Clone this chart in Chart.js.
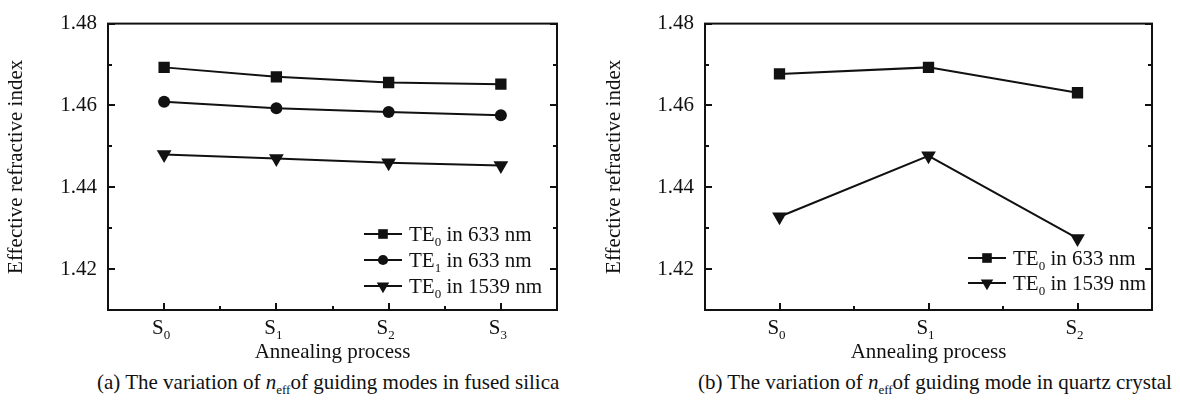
<!DOCTYPE html>
<html>
<head>
<meta charset="utf-8">
<title>Effective refractive index vs annealing process</title>
<script src="https://cdn.jsdelivr.net/npm/chart.js@4.4.1/dist/chart.umd.min.js"></script>
<style>
  html, body { margin: 0; padding: 0; background: #fff; }
  body {
    width: 1180px; height: 404px; position: relative; overflow: hidden;
    font-family: "Liberation Serif", "Times New Roman", serif; color: #111;
  }
  .panel { position: absolute; top: 0; width: 590px; height: 368px; }
  .caption { position: absolute; top: 369px; font-size: 21px; line-height: 27px; white-space: nowrap; }
  .caption sub { font-size: 13px; vertical-align: -5px; line-height: 0; }
</style>
</head>
<body>
<div class="panel" style="left:0"><canvas id="chartA" width="590" height="368"></canvas></div>
<div class="panel" style="left:590px"><canvas id="chartB" width="590" height="368"></canvas></div>
<div class="caption" style="left:97px">(a) The variation of <i>n</i><sub>eff</sub>of guiding modes in fused silica</div>
<div class="caption" style="left:698px">(b) The variation of <i>n</i><sub>eff</sub>of guiding mode in quartz crystal</div>
<script>
// categories
const STAGES_A = ["S₀", "S₁", "S₂", "S₃"];
const STAGES_B = ["S₀", "S₁", "S₂"];

// (a) fused silica
const TE0_633_A = [1.4693, 1.4670, 1.4656, 1.4652];
const TE1_633_A = [1.4609, 1.4593, 1.4584, 1.4576];
const TE0_1539_A = [1.4480, 1.4470, 1.4460, 1.4453];

// (b) quartz crystal
const TE0_633_B = [1.4677, 1.4693, 1.4631];
const TE0_1539_B = [1.4328, 1.4477, 1.4275];

// y axis
const Y_MIN = 1.41;
const Y_MAX = 1.48;
const Y_STEP = 0.01;
const Y_LABELS = ["1.42", "1.44", "1.46", "1.48"];

const INK = "#111";
const FONT = "Liberation Serif";
const SIZE = 21;
const SUB = { "₀": "0", "₁": "1", "₂": "2", "₃": "3" };

// draws text where unicode subscript digits become small lowered digits
function drawRich(ctx, text, x, y, align) {
  const parts = [];
  for (const ch of text) {
    const sub = SUB[ch] !== undefined;
    const last = parts[parts.length - 1];
    if (last && last.sub === sub) last.t += sub ? SUB[ch] : ch;
    else parts.push({ t: sub ? SUB[ch] : ch, sub });
  }
  const fontFor = (p) => (p.sub ? `13px "${FONT}"` : `${SIZE}px "${FONT}"`);
  let width = 0;
  parts.forEach((p) => {
    ctx.font = fontFor(p);
    p.w = ctx.measureText(p.t).width;
    width += p.w;
  });
  let cx = align === "center" ? x - width / 2 : x;
  ctx.save();
  ctx.fillStyle = INK;
  ctx.textAlign = "left";
  ctx.textBaseline = "alphabetic";
  parts.forEach((p) => {
    ctx.font = fontFor(p);
    ctx.fillText(p.t, cx, p.sub ? y + 5 : y);
    cx += p.w;
  });
  ctx.restore();
}

// frame, inward ticks and subscripted category labels
const frameTicks = {
  id: "frameTicks",
  afterDraw(chart) {
    const { ctx, chartArea: a, scales } = chart;
    const x = scales.x, y = scales.y;
    ctx.save();
    ctx.strokeStyle = INK;
    ctx.lineWidth = 2;
    ctx.strokeRect(a.left, a.top, a.right - a.left, a.bottom - a.top);
    ctx.beginPath();
    y.ticks.forEach((t) => {
      const py = Math.round(y.getPixelForValue(t.value));
      const len = t.label ? 7 : 4;
      ctx.moveTo(a.left, py); ctx.lineTo(a.left + len, py);
      ctx.moveTo(a.right, py); ctx.lineTo(a.right - len, py);
    });
    const n = chart.data.labels.length;
    for (let i = 0; i < n; i++) {
      const px = Math.round(x.getPixelForTick(i));
      ctx.moveTo(px, a.bottom); ctx.lineTo(px, a.bottom - 7);
      if (i < n - 1) {
        const mid = Math.round((x.getPixelForTick(i) + x.getPixelForTick(i + 1)) / 2);
        ctx.moveTo(mid, a.bottom); ctx.lineTo(mid, a.bottom - 4);
      }
    }
    ctx.stroke();
    ctx.restore();
    chart.data.labels.forEach((lab, i) => {
      drawRich(ctx, lab, x.getPixelForTick(i) - 3, a.bottom + 24, "center");
    });
  },
};

// legend inside the plot area, lower right
const boxLegend = {
  id: "boxLegend",
  afterDraw(chart, args, opts) {
    const { ctx, chartArea: a } = chart;
    const sets = chart.data.datasets;
    const n = sets.length;
    sets.forEach((ds, k) => {
      const cy = a.bottom + opts.bottom - (n - 1 - k) * opts.gap;
      const x0 = a.right + opts.x;
      ctx.save();
      ctx.strokeStyle = INK;
      ctx.fillStyle = INK;
      ctx.lineWidth = 2;
      ctx.beginPath();
      ctx.moveTo(x0, cy); ctx.lineTo(x0 + 38, cy);
      ctx.stroke();
      Chart.helpers.drawPoint(ctx, {
        pointStyle: ds.pointStyle,
        radius: ds.pointRadius * 0.85,
        rotation: ds.pointRotation || 0,
        borderWidth: 0,
      }, x0 + 19, cy);
      ctx.restore();
      drawRich(ctx, ds.label, x0 + 45, cy + 7, "left");
    });
  },
};

function series(label, data, style) {
  const radius = { rect: 8, circle: 6, triangle: 8.5 }[style];
  return {
    label,
    data,
    borderColor: INK,
    backgroundColor: INK,
    borderWidth: 2,
    tension: 0,
    pointStyle: style,
    pointRotation: style === "triangle" ? 180 : 0,
    pointRadius: radius,
    pointBorderWidth: 0,
    pointBackgroundColor: INK,
  };
}

function makeChart(id, labels, datasets, axisWidth, rightPad, titlePad, legend) {
  return new Chart(document.getElementById(id), {
    type: "line",
    data: { labels, datasets },
    options: {
      responsive: false,
      animation: false,
      devicePixelRatio: 1,
      layout: { padding: { top: 12, right: rightPad, left: 0, bottom: 0 } },
      scales: {
        x: {
          offset: true,
          grid: { display: false },
          border: { display: false },
          ticks: { display: false },
          title: {
            display: true,
            text: "Annealing process",
            color: INK,
            font: { family: FONT, size: SIZE },
            padding: { top: 0, bottom: 3 },
          },
          afterFit: (s) => { s.height = 58; },
        },
        y: {
          min: Y_MIN,
          max: Y_MAX,
          grid: { display: false, drawTicks: false },
          border: { display: false },
          ticks: {
            stepSize: Y_STEP,
            autoSkip: false,
            padding: 11,
            color: INK,
            font: { family: FONT, size: SIZE },
            callback: (v) => (Y_LABELS.includes(v.toFixed(2)) ? v.toFixed(2) : ""),
          },
          title: {
            display: true,
            text: "Effective refractive index",
            color: INK,
            font: { family: FONT, size: SIZE },
            padding: { top: titlePad, bottom: 0 },
          },
          afterFit: (s) => { s.width = axisWidth; },
        },
      },
      plugins: {
        legend: { display: false },
        tooltip: { enabled: false },
        boxLegend: legend,
      },
    },
    plugins: [frameTicks, boxLegend],
  });
}

makeChart("chartA", STAGES_A, [
  series("TE₀ in 633 nm", TE0_633_A, "rect"),
  series("TE₁ in 633 nm", TE1_633_A, "circle"),
  series("TE₀ in 1539 nm", TE0_1539_A, "triangle"),
], 108, 33, 4, { x: -193, bottom: -24, gap: 26 });

makeChart("chartB", STAGES_B, [
  series("TE₀ in 633 nm", TE0_633_B, "rect"),
  series("TE₀ in 1539 nm", TE0_1539_B, "triangle"),
], 115, 28, 12, { x: -184, bottom: -27, gap: 25 });
</script>
</body>
</html>
